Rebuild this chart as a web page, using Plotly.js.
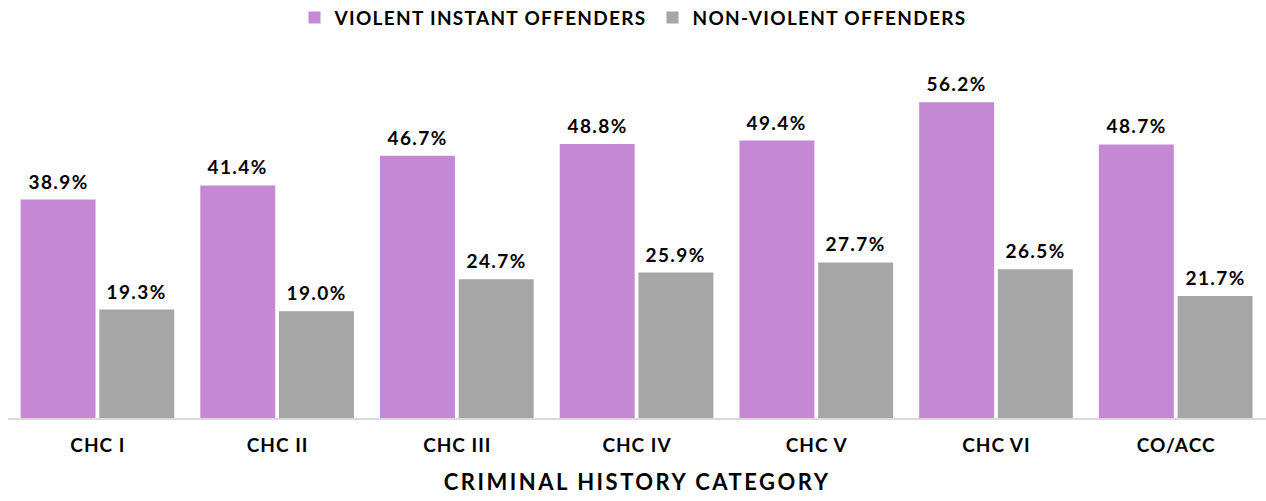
<!DOCTYPE html>
<html>
<head>
<meta charset="utf-8">
<script src="https://cdn.plot.ly/plotly-3.0.1.min.js"></script>
<style>
html,body{margin:0;padding:0;background:#fff}
#chart{width:1266px;height:501px}
.legendtext{letter-spacing:1.3px}
#chart .xtick text{letter-spacing:1px}
#chart .annotation text{letter-spacing:1.4px}
#chart .annotation[data-index="14"] text{letter-spacing:2.5px}
</style>
</head>
<body>
<div id="chart"></div>
<script>
const categories = ["CHC I", "CHC II", "CHC III", "CHC IV", "CHC V", "CHC VI", "CO/ACC"];
const violent = [38.9, 41.4, 46.7, 48.8, 49.4, 56.2, 48.7];
const nonViolent = [19.3, 19.0, 24.7, 25.9, 27.7, 26.5, 21.7];
const seriesNames = ["VIOLENT INSTANT OFFENDERS", "NON-VIOLENT OFFENDERS"];

const FONT = "Lato, 'Open Sans', sans-serif";
const purple = "#C488D4";
const gray = "#A6A6A6";
const barW = 0.417;
const offs = [-0.43, 0.008];

const traces = [
  {type: "bar", name: "<b>" + seriesNames[0] + "</b>", x: categories, y: violent, marker: {color: purple},
   width: barW, offset: offs[0], hoverinfo: "none"},
  {type: "bar", name: "<b>" + seriesNames[1] + "</b>", x: categories, y: nonViolent, marker: {color: gray},
   width: barW, offset: offs[1], hoverinfo: "none"}
];

const annotations = [];
[violent, nonViolent].forEach((vals, s) => {
  vals.forEach((v, i) => {
    annotations.push({
      x: i + offs[s] + barW / 2, y: v, xref: "x", yref: "y",
      text: "<b>" + v.toFixed(1) + "%</b>", showarrow: false,
      yanchor: "bottom", yshift: 5,
      font: {family: FONT, size: 19, color: "#000"}
    });
  });
});
annotations.push({
  x: 0.5, y: 0, xref: "paper", yref: "paper", yshift: -63, yanchor: "middle",
  text: "<b>CRIMINAL HISTORY CATEGORY</b>", showarrow: false,
  font: {family: FONT, size: 22, color: "#000"}
});

const layout = {
  width: 1266, height: 501,
  margin: {l: 8, r: 0, t: 81, b: 83},
  paper_bgcolor: "#fff", plot_bgcolor: "#fff",
  font: {family: FONT, color: "#000"},
  showlegend: true,
  legend: {orientation: "h", x: 0.5, xanchor: "center", xref: "container",
    y: 0.965, yanchor: "middle", yref: "container",
    font: {family: FONT, size: 19, color: "#000"}, itemwidth: 30, tracegroupgap: 0},
  xaxis: {type: "category", showline: true, linecolor: "#D9D9D9", linewidth: 1.5,
    ticks: "", showgrid: false, zeroline: false, ticklabelstandoff: 10,
    tickfont: {family: FONT, size: 19, color: "#000", weight: "bold"}, fixedrange: true},
  yaxis: {range: [0, 60], visible: false, showgrid: false, zeroline: false, fixedrange: true},
  annotations: annotations
};

Plotly.newPlot("chart", traces, layout, {displayModeBar: false, staticPlot: true});
</script>
</body>
</html>
